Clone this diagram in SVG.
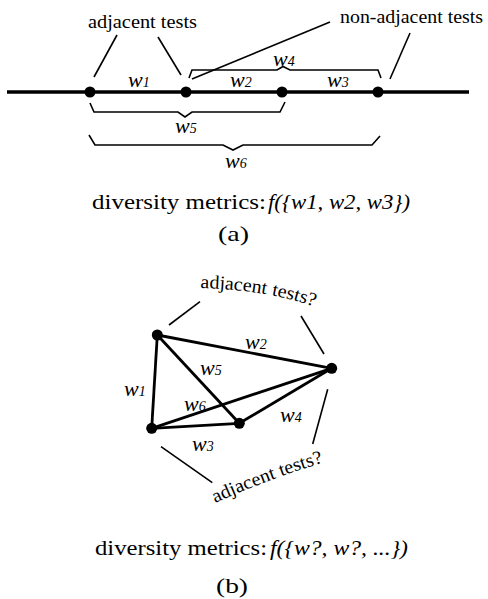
<svg xmlns="http://www.w3.org/2000/svg" width="488" height="599" viewBox="0 0 488 599" font-family="'Liberation Serif', 'Times New Roman', Times, Tinos, 'Nimbus Roman No9 L', 'Nimbus Roman', FreeSerif, 'Noto Serif', 'DejaVu Serif Condensed', serif">
<style>
text{font-family:'Liberation Serif', 'Times New Roman', Times, Tinos, 'Nimbus Roman No9 L', 'Nimbus Roman', FreeSerif, 'Noto Serif', 'DejaVu Serif Condensed', serif;fill:#000}
.lbl{font-size:19px}
.cap{font-size:21px}
.w{font-size:22px;font-style:italic}
.w tspan{font-size:14px}
.it{font-style:italic}
.thick{stroke:#000;stroke-width:3.5;fill:none}
.edge{stroke:#000;stroke-width:2.8;fill:none}
.thin{stroke:#000;stroke-width:1.6;fill:none}
.dot{fill:#000}
</style>
<rect width="488" height="599" fill="#fff"/>
<g id="connectors">
<line class="thick" x1="7" y1="92" x2="469" y2="92"/>
<path class="thin" d="M189 78 L192 70 L277 70 L283 66.5 L290 70 L378 70 L381 78"/>
<path class="thin" d="M90 103 L94 112 L178 112 L185 117 L192 112 L280 112 L285 102"/>
<path class="thin" d="M89 135 L95 145 L223 145 L233 150 L243 145 L372 145 L380 136"/>
<line class="thin" x1="117" y1="35" x2="94" y2="77"/>
<line class="thin" x1="158" y1="37" x2="181" y2="75"/>
<line class="thin" x1="330" y1="22" x2="192" y2="79"/>
<line class="thin" x1="410" y1="33" x2="390" y2="79"/>
<line class="edge" x1="157.3" y1="335" x2="331.7" y2="368.3"/>
<line class="edge" x1="157.3" y1="335" x2="151.7" y2="428.3"/>
<line class="edge" x1="157.3" y1="335" x2="239.3" y2="423.3"/>
<line class="edge" x1="151.7" y1="428.3" x2="331.7" y2="368.3"/>
<line class="edge" x1="151.7" y1="428.3" x2="239.3" y2="423.3"/>
<line class="edge" x1="239.3" y1="423.3" x2="331.7" y2="368.3"/>
<line class="thin" x1="200" y1="301.7" x2="169" y2="325"/>
<line class="thin" x1="301" y1="316" x2="324" y2="354"/>
<line class="thin" x1="327.7" y1="389.3" x2="312.7" y2="444"/>
<line class="thin" x1="161" y1="446.7" x2="212.3" y2="482.7"/>
</g>
<defs>
<path id="arcTop" d="M200 288 Q270 290 318 308"/>
<path id="arcBot" d="M215 503 Q268 479 328 461"/>
</defs>
<g id="node-a1"><circle class="dot" cx="90" cy="92" r="5.5"/></g>
<g id="node-a2"><circle class="dot" cx="186" cy="92" r="5.5"/></g>
<g id="node-a3"><circle class="dot" cx="282" cy="92" r="5.5"/></g>
<g id="node-a4"><circle class="dot" cx="378" cy="92" r="5.5"/></g>
<g id="node-bA"><circle class="dot" cx="157.3" cy="335" r="5.5"/></g>
<g id="node-bB"><circle class="dot" cx="331.7" cy="368.3" r="5.5"/></g>
<g id="node-bC"><circle class="dot" cx="151.7" cy="428.3" r="5.5"/></g>
<g id="node-bD"><circle class="dot" cx="239.3" cy="423.3" r="5.5"/></g>
<g id="labels-a">
<text class="lbl" x="88" y="28" textLength="109" lengthAdjust="spacingAndGlyphs">adjacent tests</text>
<text class="lbl" x="340" y="23" textLength="143" lengthAdjust="spacingAndGlyphs">non-adjacent tests</text>
<text class="w" x="128" y="87">w<tspan>1</tspan></text>
<text class="w" x="230" y="87">w<tspan>2</tspan></text>
<text class="w" x="327" y="87">w<tspan>3</tspan></text>
<text class="w" x="273" y="66">w<tspan>4</tspan></text>
<text class="w" x="175" y="133">w<tspan>5</tspan></text>
<text class="w" x="225" y="168">w<tspan>6</tspan></text>
<text class="cap" x="92" y="209" textLength="174" lengthAdjust="spacingAndGlyphs">diversity metrics:</text>
<text class="cap it" x="268" y="209" textLength="142" lengthAdjust="spacingAndGlyphs">f({w1, w2, w3})</text>
<text class="cap" x="218" y="241" textLength="31" lengthAdjust="spacingAndGlyphs">(a)</text>
</g>
<g id="labels-b">
<text class="lbl"><textPath href="#arcTop" textLength="116" lengthAdjust="spacingAndGlyphs">adjacent tests?</textPath></text>
<text class="lbl"><textPath href="#arcBot" textLength="116" lengthAdjust="spacingAndGlyphs">adjacent tests?</textPath></text>
<text class="w" x="245" y="349">w<tspan>2</tspan></text>
<text class="w" x="200" y="375">w<tspan>5</tspan></text>
<text class="w" x="124" y="396">w<tspan>1</tspan></text>
<text class="w" x="184" y="411">w<tspan>6</tspan></text>
<text class="w" x="280" y="422">w<tspan>4</tspan></text>
<text class="w" x="192" y="451">w<tspan>3</tspan></text>
<text class="cap" x="95" y="555" textLength="172" lengthAdjust="spacingAndGlyphs">diversity metrics:</text>
<text class="cap it" x="270" y="555" textLength="138" lengthAdjust="spacingAndGlyphs">f({w?, w?, ...})</text>
<text class="cap" x="216" y="593" textLength="32" lengthAdjust="spacingAndGlyphs">(b)</text>
</g>
</svg>
